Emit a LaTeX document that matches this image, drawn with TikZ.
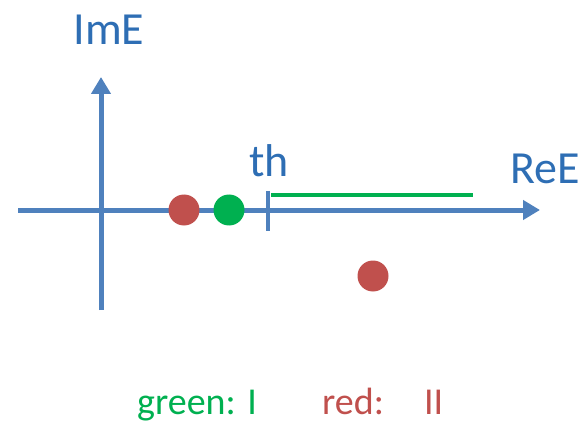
\documentclass[tikz,border=0pt]{standalone}
\usepackage{fontspec}
\setmainfont{Carlito}
\usepackage{xcolor}
\usetikzlibrary{arrows.meta,positioning}
\definecolor{axBlue}{RGB}{79,129,189}
\definecolor{txBlue}{RGB}{46,110,180}
\definecolor{ptRed}{RGB}{192,80,77}
\definecolor{ptGreen}{RGB}{0,176,80}

\begin{document}
\begin{tikzpicture}[x=1pt,y=-1pt,
  axis/.style={axBlue, line width=5pt, -{Triangle[length=17pt,width=19pt]}},
  axlabel/.style={text=txBlue, inner sep=0pt, anchor=base, font=\fontsize{46}{50}\selectfont},
  pole/.style={circle, inner sep=0pt, minimum size=31pt, fill=#1},
  key/.style={inner sep=0pt, anchor=base west, font=\fontsize{38}{42}\selectfont}]
\useasboundingbox (0,0) rectangle (584,425);

% axes
\coordinate (reStart) at (18,210);
\coordinate (reEnd) at (540,210);
\coordinate (imStart) at (101,310);
\coordinate (imEnd) at (101,77);
\draw[axis] (reStart) -- (reEnd);
\draw[axis] (imStart) -- (imEnd);

\node[axlabel] (imLabel) at (109,45) {ImE};
\node[axlabel] (reLabel) at (545,183) {ReE};

% threshold and cut
\coordinate (thTop) at (268,191);
\coordinate (thBot) at (268,231);
\draw[axBlue, line width=4pt] (thTop) -- (thBot);
\node[axlabel, anchor=base west] (thLabel) at (249,177) {th};
\coordinate (cutStart) at (271,195);
\coordinate (cutEnd) at (473,195);
\draw[ptGreen, line width=4.5pt] (cutStart) -- (cutEnd);

% poles
\node[pole=ptRed] (redA) at (184,210) {};
\node[pole=ptGreen] (greenA) at (229,210) {};
\node[pole=ptRed] (redB) at (373,276) {};

\node[key, text=ptGreen] (greenKey) at (137,414) {green: I};
\node[key, text=ptRed] (redKey) at (322,414) {red:\hspace{40pt}II};
\end{tikzpicture}
\end{document}
